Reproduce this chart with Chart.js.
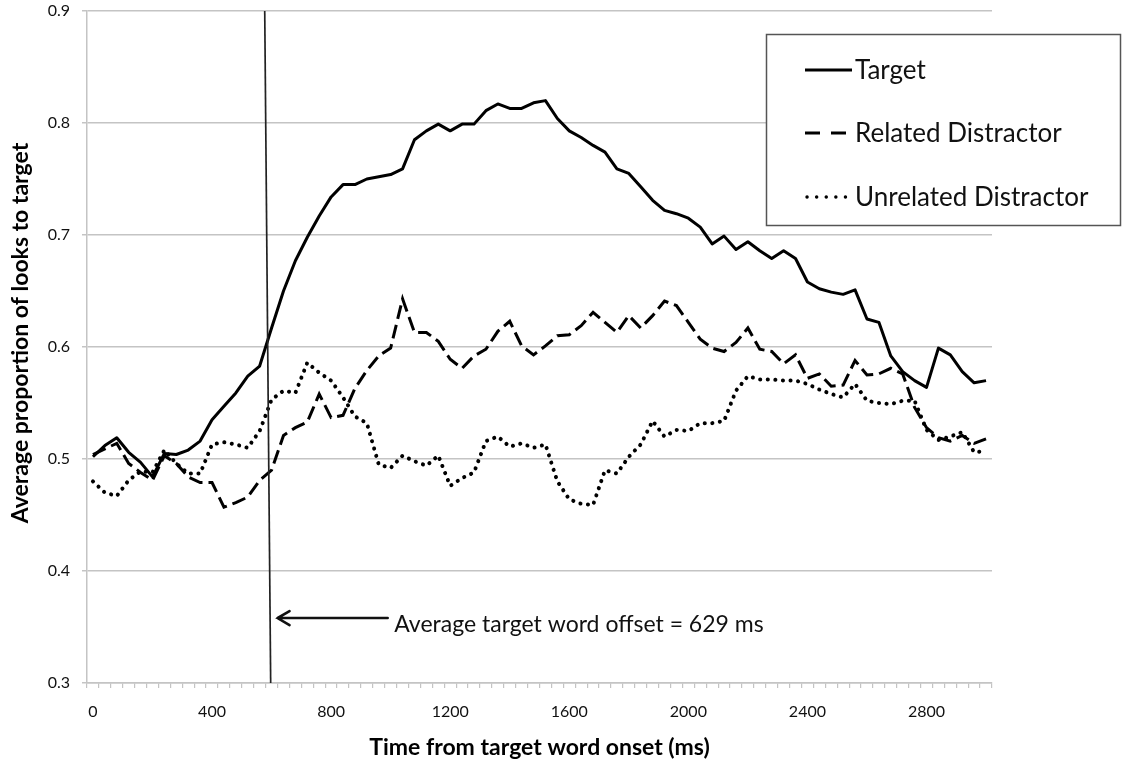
<!DOCTYPE html>
<html>
<head>
<meta charset="utf-8">
<script src="https://cdn.jsdelivr.net/npm/chart.js@4"></script>
<style>
  html, body { margin: 0; padding: 0; background: #ffffff; }
  #wrap { width: 1122px; height: 769px; position: relative; }
</style>
</head>
<body>
<div id="wrap"><canvas id="c" width="1122" height="769"></canvas></div>
<script>
// ---- data (time in ms, proportion of looks) ----
const times = [0,40,80,120,160,200,240,280,320,360,400,440,480,520,560,600,640,680,720,760,800,840,880,920,960,1000,1040,1080,1120,1160,1200,1240,1280,1320,1360,1400,1440,1480,1520,1560,1600,1640,1680,1720,1760,1800,1840,1880,1920,1960,2000,2040,2080,2120,2160,2200,2240,2280,2320,2360,2400,2440,2480,2520,2560,2600,2640,2680,2720,2760,2800,2840,2880,2920,2960,3000];
const target = [0.502,0.512,0.519,0.506,0.497,0.484,0.505,0.504,0.508,0.516,0.535,0.547,0.559,0.574,0.583,0.617,0.650,0.677,0.698,0.717,0.734,0.745,0.745,0.750,0.752,0.754,0.759,0.785,0.793,0.799,0.793,0.799,0.799,0.811,0.817,0.813,0.813,0.818,0.820,0.804,0.793,0.787,0.780,0.774,0.759,0.755,0.743,0.731,0.722,0.719,0.715,0.707,0.692,0.699,0.687,0.694,0.686,0.679,0.686,0.679,0.658,0.652,0.649,0.647,0.651,0.625,0.622,0.592,0.578,0.570,0.564,0.599,0.593,0.578,0.568,0.570];
const related = [0.504,0.509,0.514,0.496,0.488,0.481,0.503,0.496,0.484,0.479,0.479,0.457,0.461,0.466,0.481,0.490,0.521,0.528,0.533,0.558,0.537,0.539,0.563,0.579,0.592,0.599,0.643,0.613,0.613,0.605,0.589,0.581,0.592,0.598,0.614,0.623,0.601,0.593,0.601,0.610,0.611,0.619,0.631,0.622,0.613,0.628,0.617,0.628,0.641,0.637,0.622,0.607,0.599,0.596,0.604,0.617,0.598,0.596,0.585,0.593,0.572,0.576,0.565,0.566,0.588,0.575,0.576,0.581,0.576,0.546,0.528,0.519,0.516,0.521,0.514,0.518];
const unrelated = [0.480,0.470,0.467,0.481,0.489,0.488,0.508,0.496,0.487,0.487,0.513,0.515,0.513,0.510,0.525,0.553,0.561,0.559,0.586,0.577,0.570,0.555,0.538,0.532,0.495,0.492,0.503,0.498,0.494,0.503,0.476,0.483,0.488,0.516,0.520,0.511,0.514,0.510,0.513,0.480,0.464,0.460,0.459,0.490,0.487,0.502,0.513,0.534,0.520,0.526,0.525,0.532,0.532,0.534,0.561,0.574,0.571,0.571,0.570,0.570,0.567,0.562,0.558,0.555,0.567,0.552,0.550,0.549,0.552,0.552,0.526,0.517,0.520,0.524,0.506,0.507];
const xTickLabels = [0,400,800,1200,1600,2000,2400,2800];
const yTickLabels = [0.3,0.4,0.5,0.6,0.7,0.8,0.9];
const seriesNames = ['Target','Related Distractor','Unrelated Distractor'];
// annotation: vertical marker line (drawn slightly slanted as in the original) and note
const markerTop = 577, markerBottom = 597;
const noteText = 'Average target word offset = 629 ms';
const arrowFrom = 990, arrowTo = 620, arrowY = 0.358, noteX = 1012;

const FONT = 'Lato, "Open Sans", sans-serif';
const GRID = '#c4c4c4';

const overlay = {
  id: 'overlay',
  afterDatasetsDraw(chart) {
    const ctx = chart.ctx, xs = chart.scales.x, ys = chart.scales.y;
    ctx.save();
    // vertical marker line
    ctx.strokeStyle = '#222';
    ctx.lineWidth = 1.7;
    ctx.beginPath();
    ctx.moveTo(xs.getPixelForValue(markerTop), ys.getPixelForValue(0.9));
    ctx.lineTo(xs.getPixelForValue(markerBottom), ys.getPixelForValue(0.3));
    ctx.stroke();
    // arrow
    const ay = ys.getPixelForValue(arrowY);
    const ax1 = xs.getPixelForValue(arrowFrom), ax2 = xs.getPixelForValue(arrowTo);
    ctx.strokeStyle = '#111';
    ctx.lineWidth = 2.6;
    ctx.lineCap = 'round';
    ctx.beginPath();
    ctx.moveTo(ax1, ay); ctx.lineTo(ax2, ay);
    ctx.moveTo(ax2 + 12, ay - 7); ctx.lineTo(ax2, ay); ctx.lineTo(ax2 + 12, ay + 7);
    ctx.stroke();
    // note text
    ctx.fillStyle = '#111';
    ctx.font = '23px ' + FONT;
    ctx.textBaseline = 'middle';
    ctx.textAlign = 'left';
    ctx.fillText(noteText, xs.getPixelForValue(noteX), ay + 7);

    // axis titles
    ctx.fillStyle = '#000';
    ctx.font = 'bold 23px ' + FONT;
    ctx.textAlign = 'center';
    ctx.fillText('Time from target word onset (ms)', (chart.chartArea.left + chart.chartArea.right) / 2, 748);
    ctx.save();
    ctx.translate(21, 333);
    ctx.rotate(-Math.PI / 2);
    ctx.fillText('Average proportion of looks to target', 0, 0);
    ctx.restore();

    // legend box
    ctx.fillStyle = '#ffffff';
    ctx.fillRect(766, 34, 355, 192);
    ctx.strokeStyle = '#555';
    ctx.lineWidth = 1.5;
    ctx.strokeRect(766.5, 34.5, 354, 191);
    const rows = [70, 133, 197];
    chart.data.datasets.forEach((ds, i) => {
      const y = rows[i];
      ctx.save();
      ctx.strokeStyle = ds.borderColor;
      ctx.lineWidth = i === 2 ? 3.4 : 3;
      ctx.lineCap = ds.borderCapStyle || 'butt';
      ctx.setLineDash(i === 1 ? [15, 11] : (i === 2 ? [0.1, 9.5] : []));
      ctx.beginPath();
      ctx.moveTo(i === 2 ? 807 : 805, y); ctx.lineTo(852, y);
      ctx.stroke();
      ctx.restore();
      ctx.fillStyle = '#111';
      ctx.font = '26px ' + FONT;
      ctx.textAlign = 'left';
      ctx.textBaseline = 'middle';
      ctx.fillText(ds.label, 855, y + 1);
    });
    ctx.restore();
  }
};

new Chart(document.getElementById('c'), {
  type: 'line',
  data: {
    labels: times,
    datasets: [
      { label: seriesNames[0], data: target, borderColor: '#000', borderWidth: 3, borderJoinStyle: 'round', pointRadius: 0, tension: 0 },
      { label: seriesNames[1], data: related, borderColor: '#000', borderWidth: 3, borderDash: [14, 6], pointRadius: 0, tension: 0 },
      { label: seriesNames[2], data: unrelated, borderColor: '#000', borderWidth: 4, borderDash: [0.1, 7.5], borderCapStyle: 'round', pointRadius: 0, tension: 0 }
    ]
  },
  options: {
    responsive: false,
    animation: false,
    devicePixelRatio: 1,
    layout: { padding: { left: 0, right: 130, top: 11, bottom: 0 } },
    plugins: { legend: { display: false }, tooltip: { enabled: false } },
    scales: {
      x: {
        type: 'linear',
        min: -20, max: 3020,
        afterBuildTicks(scale) {
          const t = [];
          for (let v = -20; v <= 3020; v += 20) t.push({ value: v });
          scale.ticks = t;
        },
        afterFit(scale) { scale.height = 86; scale.paddingLeft = 0; scale.paddingRight = 0; },
        grid: {
          drawOnChartArea: false,
          drawTicks: true,
          tickLength: 5,
          lineWidth: 1.2,
          color: (c) => (c.tick && ((c.tick.value + 20) % 40 === 0)) ? GRID : 'rgba(0,0,0,0)'
        },
        border: { display: true, color: GRID, width: 1.5 },
        ticks: {
          autoSkip: false,
          maxRotation: 0,
          padding: 14,
          color: '#111',
          font: { family: FONT, size: 16 },
          callback: (v) => xTickLabels.includes(v) ? String(v) : ''
        }
      },
      y: {
        min: 0.3, max: 0.9,
        afterFit(scale) { scale.width = 87; scale.paddingTop = 0; scale.paddingBottom = 0; },
        afterBuildTicks(scale) { scale.ticks = yTickLabels.map(v => ({ value: v })); },
        grid: { color: GRID, lineWidth: 1.5, tickLength: 5 },
        border: { display: true, color: GRID, width: 1.5 },
        ticks: {
          padding: 12,
          color: '#111',
          font: { family: FONT, size: 16 },
          callback: (v) => String(Math.round(v * 10) / 10)
        }
      }
    }
  },
  plugins: [overlay]
});
</script>
</body>
</html>
